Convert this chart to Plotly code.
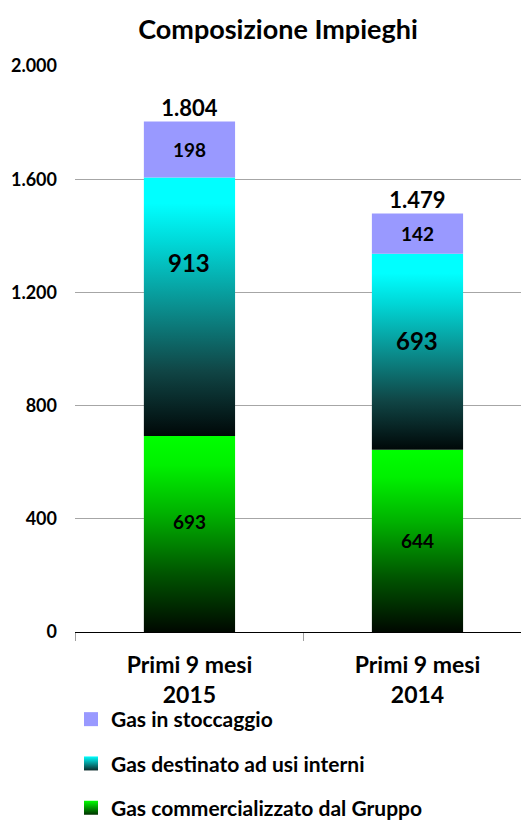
import plotly.graph_objects as go

categories = ["Primi 9 mesi<br>2015", "Primi 9 mesi<br>2014"]
commercializzato = [693, 644]
usi_interni = [913, 693]
stoccaggio = [198, 142]
totali = [1804, 1479]
y_ticks = [0, 400, 800, 1200, 1600, 2000]

series = [
    ("Gas commercializzato dal Gruppo", commercializzato),
    ("Gas destinato ad usi interni", usi_interni),
    ("Gas in stoccaggio", stoccaggio),
]

FONT = "Lato"
BAR_W = 0.4
green_scale = [[0, "#000800"], [0.3, "#005500"], [0.6, "#00b000"], [0.85, "#00f000"], [1, "#00ff00"]]
cyan_scale = [[0, "#000808"], [0.25, "#104545"], [0.5, "#0a8f8f"], [0.75, "#00d8d8"], [0.9, "#00ffff"], [1, "#00ffff"]]
styles = {
    "Gas commercializzato dal Gruppo": dict(scale=green_scale, solid=None, top="#00ff00", bottom="#003000",
                                            lab=19, shift=[12, 0]),
    "Gas destinato ad usi interni": dict(scale=cyan_scale, solid=None, top="#00ffff", bottom="#0a2a2a",
                                         lab=24, shift=[44, 11]),
    "Gas in stoccaggio": dict(scale=None, solid="#9999ff", top="#9999ff", bottom="#9999ff",
                              lab=19, shift=[0, 0]),
}

fig = go.Figure()
annotations = []
bases = [0] * len(categories)
for name, vals in series:
    st = styles[name]
    for i, v in enumerate(vals):
        b = bases[i]
        xs = [i - BAR_W / 2, i + BAR_W / 2, i + BAR_W / 2, i - BAR_W / 2, i - BAR_W / 2]
        ys = [b, b, b + v, b + v, b]
        kw = dict(x=xs, y=ys, mode="lines", line=dict(width=0), fill="toself",
                  showlegend=False, hoverinfo="skip")
        if st["scale"]:
            kw["fillgradient"] = dict(type="vertical", colorscale=st["scale"])
        else:
            kw["fillcolor"] = st["solid"]
        fig.add_trace(go.Scatter(**kw))
        annotations.append(dict(x=i, y=b + v / 2, xref="x", yref="y", text=f"<b>{v}</b>",
                                showarrow=False, yshift=st["shift"][i],
                                font=dict(family=FONT, size=st["lab"], color="black")))
    bases = [bases[i] + v for i, v in enumerate(vals)]

fig.add_trace(go.Scatter(x=list(range(len(totali))), y=totali, mode="text",
                         texttemplate="%{y:,}", textposition="top center",
                         textfont=dict(family=FONT, size=22, color="black", weight="bold"),
                         showlegend=False, hoverinfo="skip"))

# legend entries
for rank, (name, vals) in enumerate(reversed(series)):
    st = styles[name]
    fig.add_trace(go.Scatter(x=[None], y=[None], mode="markers", name=name,
                             legendgroup=name, legendrank=rank + 1,
                             marker=dict(symbol="square", size=14, color=st["top"],
                                         gradient=dict(type="vertical", color=st["bottom"]),
                                         line=dict(width=0))))

fig.update_layout(
    width=521, height=823,
    margin=dict(l=75, r=0, t=66, b=191, autoexpand=False),
    paper_bgcolor="white", plot_bgcolor="white",
    separators=",.",
    font=dict(family=FONT, color="black"),
    title=dict(text="<b>Composizione Impieghi</b>", x=278 / 521, xanchor="center",
               xref="container", y=1 - 30 / 823, yanchor="middle", yref="container",
               font=dict(family=FONT, size=27, color="black")),
    legend=dict(xref="container", yref="container", x=71 / 521, y=1 - 699 / 823,
                xanchor="left", yanchor="top", tracegroupgap=14,
                font=dict(family=FONT, size=21, color="black", weight="bold"),
                bgcolor="rgba(0,0,0,0)"),
    annotations=annotations,
    showlegend=True,
)
fig.update_xaxes(
    range=[-0.502, 1.454], tickmode="array", tickvals=list(range(len(categories))),
    ticktext=categories, ticks="", showgrid=False, zeroline=False,
    showline=True, linecolor="black", linewidth=1.2,
    tickfont=dict(family=FONT, size=23, color="black", weight="bold"),
    ticklabelstandoff=12,
    minor=dict(tickmode="array", tickvals=[-0.5, 0.5], ticks="outside", ticklen=8,
               tickcolor="#a0a0a0", tickwidth=1, showgrid=False),
)
fig.update_yaxes(
    range=[0, 2000], tickmode="array", tickvals=y_ticks, tickformat=",",
    showgrid=True, gridcolor="#a6a6a6", gridwidth=1, zeroline=False, showline=False,
    tickfont=dict(family=FONT, size=18, color="black", weight="bold"),
    ticklabelstandoff=17,
)
fig.write_html("out.html")
